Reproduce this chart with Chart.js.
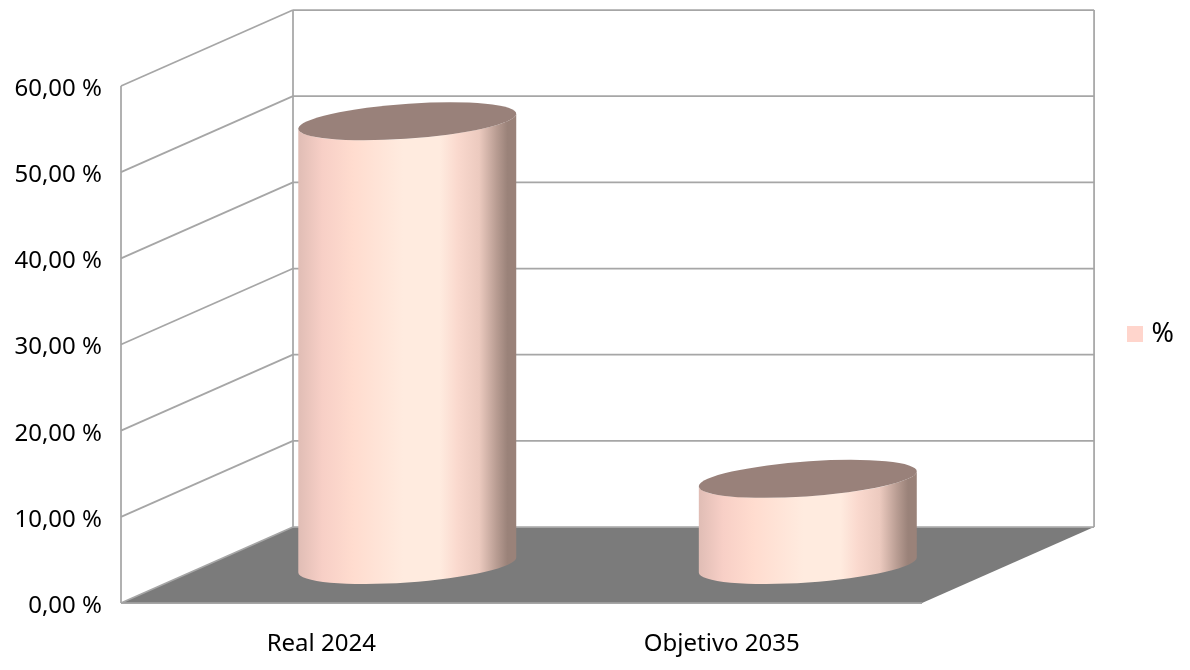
<!DOCTYPE html>
<html lang="es">
<head>
  <meta charset="UTF-8">
  <title>Real 2024 / Objetivo 2035</title>
  <script src="https://cdn.jsdelivr.net/npm/chart.js"></script>
  <style>
    html, body { margin: 0; padding: 0; background: #fff; }
    canvas { display: block; }
  </style>
</head>
<body>
  <canvas id="cylChart" width="1190" height="670"></canvas>

  <script>
    const categories = ['Real 2024', 'Objetivo 2035'];
    const seriesName = '%';
    const seriesValues = [51.5, 10];
    const yTickLabels = ['0,00 %', '10,00 %', '20,00 %', '30,00 %', '40,00 %', '50,00 %', '60,00 %'];

    const FONT = '"Noto Sans", sans-serif';
    const depthX = 172, depthY = -76;
    const gridColor = '#a6a6a6', floorColor = '#7b7b7b', topColor = '#99817a';

    function line(ctx, x1, y1, x2, y2) {
      ctx.beginPath();
      ctx.moveTo(x1, y1);
      ctx.lineTo(x2, y2);
      ctx.stroke();
    }

    function drawWalls(chart) {
      const ctx = chart.ctx, a = chart.chartArea, y = chart.scales.y;
      const backL = a.left + depthX, backR = a.right + depthX;
      const y0 = y.getPixelForValue(0);

      ctx.fillStyle = floorColor;
      ctx.beginPath();
      ctx.moveTo(a.left, y0);
      ctx.lineTo(backL, y0 + depthY);
      ctx.lineTo(backR, y0 + depthY);
      ctx.lineTo(a.right, y0);
      ctx.closePath();
      ctx.fill();

      ctx.strokeStyle = gridColor;
      ctx.lineWidth = 1.75;
      y.ticks.forEach(t => {
        const py = y.getPixelForValue(t.value);
        line(ctx, a.left, py, backL, py + depthY);
        line(ctx, backL, py + depthY, backR, py + depthY);
      });
      line(ctx, a.left, a.top, a.left, y0);
      line(ctx, backL, a.top + depthY, backL, y0 + depthY);
      line(ctx, backR, a.top + depthY, backR, y0 + depthY);
      line(ctx, a.left, y0, a.right, y0);
    }

    // unit circle on the floor plane, squashed along the depth axis
    function ellipsePath(ctx, cx, cy, r, start, end, ccw) {
      ctx.save();
      ctx.transform(r, 0, depthX / 4, depthY / 4, cx, cy);
      ctx.arc(0, 0, 1, start, end, ccw);
      ctx.restore();
    }

    function drawCylinder(ctx, bar) {
      const r = bar.width / 2;
      const cx = bar.x + depthX / 2;
      const top = bar.y + depthY / 2, bottom = bar.base + depthY / 2;
      const t0 = Math.atan2(depthX / 4, r);
      const ext = Math.hypot(r, depthX / 4);

      const g = ctx.createLinearGradient(cx - ext, 0, cx + ext, 0);
      g.addColorStop(0, '#e0bdb5');
      g.addColorStop(0.11, '#f7cfc6');
      g.addColorStop(0.25, '#ffdccf');
      g.addColorStop(0.48, '#ffebdf');
      g.addColorStop(0.65, '#ffebdf');
      g.addColorStop(0.73, '#fad9ce');
      g.addColorStop(0.83, '#eccabf');
      g.addColorStop(0.91, '#b89c92');
      g.addColorStop(0.96, '#9a8279');
      g.addColorStop(1, '#9a8279');

      ctx.beginPath();
      ellipsePath(ctx, cx, bottom, r, t0, t0 - Math.PI, true);
      ellipsePath(ctx, cx, top, r, t0 - Math.PI, t0, false);
      ctx.closePath();
      ctx.fillStyle = g;
      ctx.fill();

      ctx.beginPath();
      ellipsePath(ctx, cx, top, r, 0, Math.PI * 2, false);
      ctx.closePath();
      ctx.fillStyle = topColor;
      ctx.fill();
    }

    const cylinderPlugin = {
      id: 'cylinders',
      afterLayout(chart) {
        // legend sits right of the back wall, not next to the front plane
        const l = chart.legend, h = l.bottom - l.top;
        l.left = 1117;
        l.right = 1174;
        l.top = 334 - h / 2;
        l.bottom = l.top + h;
        // tick text sits a little under its grid line in the original
        chart.scales.y.getLabelItems(chart.chartArea).forEach(item => {
          item.options.translation[1] += 3;
        });
      },
      beforeDatasetsDraw(chart) {
        drawWalls(chart);
        chart.getDatasetMeta(0).data.forEach(bar => drawCylinder(chart.ctx, bar));
        return false;
      }
    };

    new Chart(document.getElementById('cylChart').getContext('2d'), {
      type: 'bar',
      data: {
        labels: categories,
        datasets: [{
          label: seriesName,
          data: seriesValues,
          backgroundColor: '#ffd5cc',
          barPercentage: 1,
          categoryPercentage: 0.5
        }]
      },
      options: {
        responsive: false,
        animation: false,
        layout: { padding: { top: 86, right: 196, left: 0, bottom: 0 } },
        plugins: {
          tooltip: { enabled: false },
          legend: {
            position: 'right',
            labels: {
              boxWidth: 16,
              boxHeight: 16,
              padding: 10,
              color: '#000',
              textAlign: 'right',
              font: { family: FONT, size: 27 }
            }
          }
        },
        scales: {
          x: {
            grid: { display: false },
            border: { display: false },
            afterFit: s => { s.height = 67; },
            ticks: { color: '#000', padding: 19, maxRotation: 0, font: { family: FONT, size: 24 } }
          },
          y: {
            min: 0,
            max: 60,
            grid: { display: false },
            border: { display: false },
            afterFit: s => { s.width = 121; },
            ticks: {
              stepSize: 10,
              color: '#000',
              padding: 11,
              font: { family: FONT, size: 24 },
              callback: (v, i) => yTickLabels[i]
            }
          }
        }
      },
      plugins: [cylinderPlugin]
    });
  </script>
</body>
</html>
